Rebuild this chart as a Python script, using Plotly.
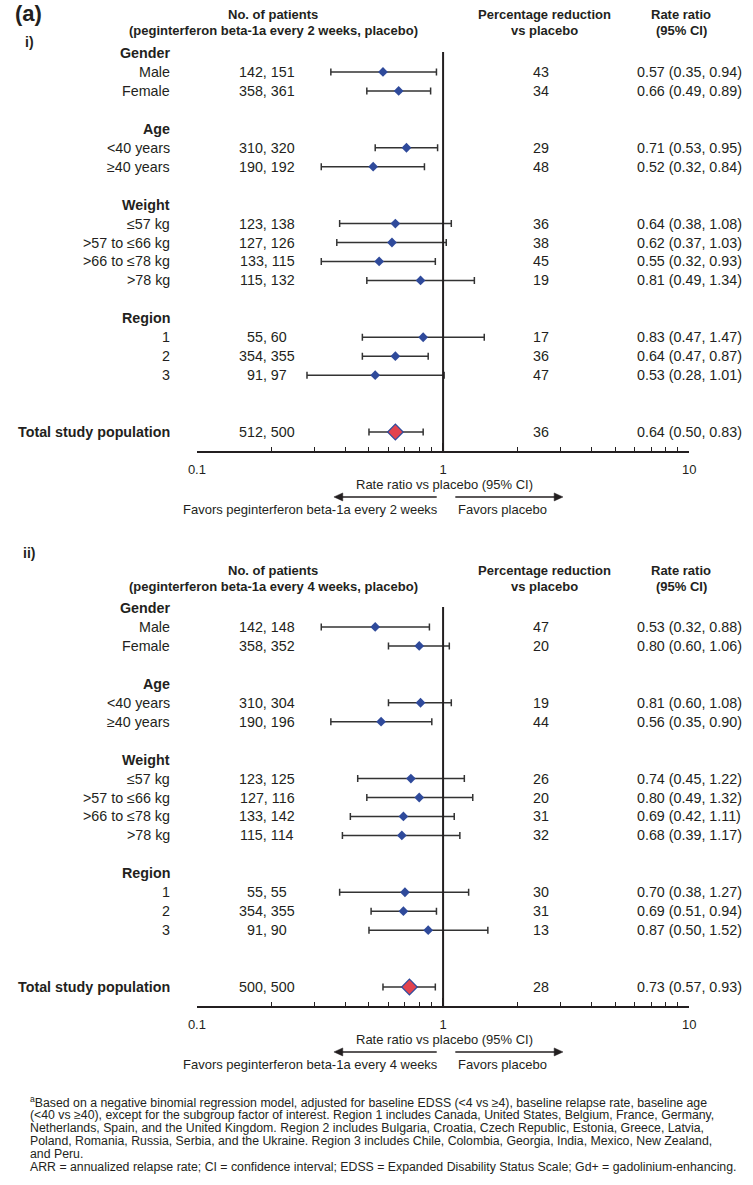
import plotly.graph_objects as go

W, H = 753, 1185

# ---------------- data ----------------
groups = ["Gender", "Age", "Weight", "Region"]
subgroups = [
    ["Male", "Female"],
    ["<40 years", "≥40 years"],
    ["≤57 kg", ">57 to ≤66 kg", ">66 to ≤78 kg", ">78 kg"],
    ["1", "2", "3"],
]
total_label = "Total study population"

# Panel i: peginterferon beta-1a every 2 weeks vs placebo (last entry = total)
q2w_patients = ["142, 151", "358, 361", "310, 320", "190, 192", "123, 138", "127, 126",
                "133, 115", "115, 132", "55, 60", "354, 355", "91, 97", "512, 500"]
q2w_reduction = [43, 34, 29, 48, 36, 38, 45, 19, 17, 36, 47, 36]
q2w_rr = [0.57, 0.66, 0.71, 0.52, 0.64, 0.62, 0.55, 0.81, 0.83, 0.64, 0.53, 0.64]
q2w_lo = [0.35, 0.49, 0.53, 0.32, 0.38, 0.37, 0.32, 0.49, 0.47, 0.47, 0.28, 0.50]
q2w_hi = [0.94, 0.89, 0.95, 0.84, 1.08, 1.03, 0.93, 1.34, 1.47, 0.87, 1.01, 0.83]

# Panel ii: peginterferon beta-1a every 4 weeks vs placebo (last entry = total)
q4w_patients = ["142, 148", "358, 352", "310, 304", "190, 196", "123, 125", "127, 116",
                "133, 142", "115, 114", "55, 55", "354, 355", "91, 90", "500, 500"]
q4w_reduction = [47, 20, 19, 44, 26, 20, 31, 32, 30, 31, 13, 28]
q4w_rr = [0.53, 0.80, 0.81, 0.56, 0.74, 0.80, 0.69, 0.68, 0.70, 0.69, 0.87, 0.73]
q4w_lo = [0.32, 0.60, 0.60, 0.35, 0.45, 0.49, 0.42, 0.39, 0.38, 0.51, 0.50, 0.57]
q4w_hi = [0.88, 1.06, 1.08, 0.90, 1.22, 1.32, 1.11, 1.17, 1.27, 0.94, 1.52, 0.93]

x_ticks = [0.1, 1, 10]

footnote_lines = [
    "<sup>a</sup>Based on a negative binomial regression model, adjusted for baseline EDSS (<4 vs ≥4), baseline relapse rate, baseline age",
    "(<40 vs ≥40), except for the subgroup factor of interest. Region 1 includes Canada, United States, Belgium, France, Germany,",
    "Netherlands, Spain, and the United Kingdom. Region 2 includes Bulgaria, Croatia, Czech Republic, Estonia, Greece, Latvia,",
    "Poland, Romania, Russia, Serbia, and the Ukraine. Region 3 includes Chile, Colombia, Georgia, India, Mexico, New Zealand,",
    "and Peru.",
    "ARR = annualized relapse rate; CI = confidence interval; EDSS = Expanded Disability Status Scale; Gd+ = gadolinium-enhancing.",
]

# ---------------- layout helpers ----------------
FONT = "Liberation Sans"
TXT = "#231F20"
BLUE = "#2F4A9B"
RED = "#E2434E"
ROW_PX = 18.95


def px(x):
    return x / W


def py(y):
    return 1 - y / H


# row indices
header_rows, item_rows = [], []
idx = 0
for g, subs in zip(groups, subgroups):
    header_rows.append(idx)
    idx += 1
    for s in subs:
        item_rows.append(idx)
        idx += 1
    idx += 1
total_row = item_rows[-1] + 3
axis_row = total_row + 1
all_rows = item_rows + [total_row]
sub_labels = [s for subs in subgroups for s in subs]

panels = [
    dict(patients=q2w_patients, red=q2w_reduction, rr=q2w_rr, lo=q2w_lo, hi=q2w_hi,
         freq="2", top=53),
    dict(patients=q4w_patients, red=q4w_reduction, rr=q4w_rr, lo=q4w_lo, hi=q4w_hi,
         freq="4", top=608),
]

fig = go.Figure()
annotations = []
shapes = []


def add_text(x, y, text, yref="paper", xanchor="center", size=14, bold=False, yanchor="middle"):
    annotations.append(dict(
        x=x, y=y, xref="paper", yref=yref, text=f"<b>{text}</b>" if bold else text,
        showarrow=False, xanchor=xanchor, yanchor=yanchor,
        font=dict(family=FONT, size=size, color=TXT)))


def add_arrow(x_tail, x_tip, y):
    d = 1 if x_tip > x_tail else -1
    shapes.append(dict(type="line", xref="paper", yref="paper",
                       x0=px(x_tail), x1=px(x_tip - d * 4), y0=py(y), y1=py(y),
                       line=dict(color=TXT, width=1.6)))
    path = (f"M {px(x_tip)},{py(y)} L {px(x_tip - d * 9)},{py(y - 4)} "
            f"L {px(x_tip - d * 9)},{py(y + 4)} Z")
    shapes.append(dict(type="path", xref="paper", yref="paper", path=path,
                       fillcolor=TXT, line=dict(color=TXT, width=0.5)))


X0, X1 = 192, 695
for k, p in enumerate(panels):
    n = "" if k == 0 else str(k + 1)
    xa, ya = "x" + n, "y" + n
    top_px = p["top"] - ROW_PX
    bot_px = p["top"] + axis_row * ROW_PX
    fig.update_layout(**{
        ("xaxis" + n): dict(type="log", range=[-1, 1], domain=[px(X0), px(X1)], anchor=ya,
                            showline=True, linewidth=2, linecolor=TXT, mirror=False,
                            ticks="inside", ticklen=8, tickwidth=1.5, tickcolor=TXT,
                            tickmode="array", tickvals=x_ticks, ticktext=[str(t) for t in x_ticks],
                            minor=dict(ticks="inside", ticklen=4, tickwidth=1.2, tickcolor=TXT,
                                       dtick="D1", showgrid=False),
                            showgrid=False, zeroline=False, ticklabelstandoff=5,
                            tickfont=dict(family=FONT, size=13, color=TXT), fixedrange=True),
        ("yaxis" + n): dict(range=[axis_row, -1], domain=[py(bot_px), py(top_px)], anchor=xa,
                            visible=False, fixedrange=True),
    })

    sub_idx = list(range(len(sub_labels)))
    # subgroup estimates
    fig.add_trace(go.Scatter(
        x=[p["rr"][i] for i in sub_idx], y=item_rows, xaxis=xa, yaxis=ya, mode="markers",
        marker=dict(symbol="diamond", size=7.5, color=BLUE, line=dict(width=0)),
        error_x=dict(type="data", symmetric=False,
                     array=[p["hi"][i] - p["rr"][i] for i in sub_idx],
                     arrayminus=[p["rr"][i] - p["lo"][i] for i in sub_idx],
                     color="#333333", thickness=1.5, width=3.5),
        showlegend=False, hoverinfo="skip"))
    # total
    fig.add_trace(go.Scatter(
        x=[p["rr"][-1]], y=[total_row], xaxis=xa, yaxis=ya, mode="markers",
        marker=dict(symbol="diamond", size=12, color=RED, line=dict(width=1.2, color=BLUE)),
        error_x=dict(type="data", symmetric=False,
                     array=[p["hi"][-1] - p["rr"][-1]], arrayminus=[p["rr"][-1] - p["lo"][-1]],
                     color="#333333", thickness=1.5, width=3.5),
        showlegend=False, hoverinfo="skip"))

    # reference line at 1
    shapes.append(dict(type="line", xref=xa, yref=ya, x0=1, x1=1, y0=-0.05, y1=axis_row,
                       line=dict(color=TXT, width=2)))

    # column headers
    h1 = p["top"] - 38
    h2 = p["top"] - 22
    add_text(px(270), py(h1), "No. of patients", size=13, bold=True)
    add_text(px(270), py(h2), f"(peginterferon beta-1a every {p['freq']} weeks, placebo)", size=13, bold=True)
    add_text(px(547), py(h1), "Percentage reduction", size=13, bold=True)
    add_text(px(547), py(h2), "vs placebo", size=13, bold=True)
    add_text(px(687), py(h1), "Rate ratio", size=13, bold=True)
    add_text(px(687), py(h2), "(95% CI)", size=13, bold=True)

    # group headers and rows
    for g, r in zip(groups, header_rows):
        add_text(px(167), r, g, yref=ya, xanchor="right", size=14.3, bold=True)
    for lab, r in zip(sub_labels, item_rows):
        add_text(px(167), r, lab, yref=ya, xanchor="right", size=14.3)
    add_text(px(167), total_row, total_label, yref=ya, xanchor="right", size=14.3, bold=True)
    for i, r in enumerate(all_rows):
        add_text(px(264), r, p["patients"][i], yref=ya, size=14.3)
        add_text(px(544), r, str(p["red"][i]), yref=ya, size=14.3)
        add_text(px(695), r, f"{p['rr'][i]:.2f} ({p['lo'][i]:.2f}, {p['hi'][i]:.2f})", yref=ya, size=14.3)

    # axis title, arrows, favors
    ax_px = bot_px
    add_text(px(445), py(ax_px + 34), "Rate ratio vs placebo (95% CI)", size=13)
    ay_px = ax_px + 46
    add_arrow(437, 332, ay_px)
    add_arrow(456, 566, ay_px)
    add_text(px(440), py(ax_px + 59), f"Favors peginterferon beta-1a every {p['freq']} weeks",
             xanchor="right", size=13)
    add_text(px(457), py(ax_px + 59), "Favors placebo", xanchor="left", size=13)

# panel labels
add_text(px(4), py(14), "(a)", xanchor="left", size=22, bold=True)
add_text(px(14), py(42), "i)", xanchor="left", size=14, bold=True)
add_text(px(12), py(553), "ii)", xanchor="left", size=14, bold=True)

# footnote, one annotation per line
for j, line in enumerate(footnote_lines):
    add_text(px(19), py(1102 + 13 * j), line, xanchor="left", size=12.3)

fig.update_layout(width=W, height=H, margin=dict(l=0, r=0, t=0, b=0),
                  paper_bgcolor="white", plot_bgcolor="white",
                  annotations=annotations, shapes=shapes, showlegend=False)

fig.write_html("out.html", config={"displayModeBar": False},
               post_script="document.body.style.margin='0';document.body.style.overflow='hidden';")
